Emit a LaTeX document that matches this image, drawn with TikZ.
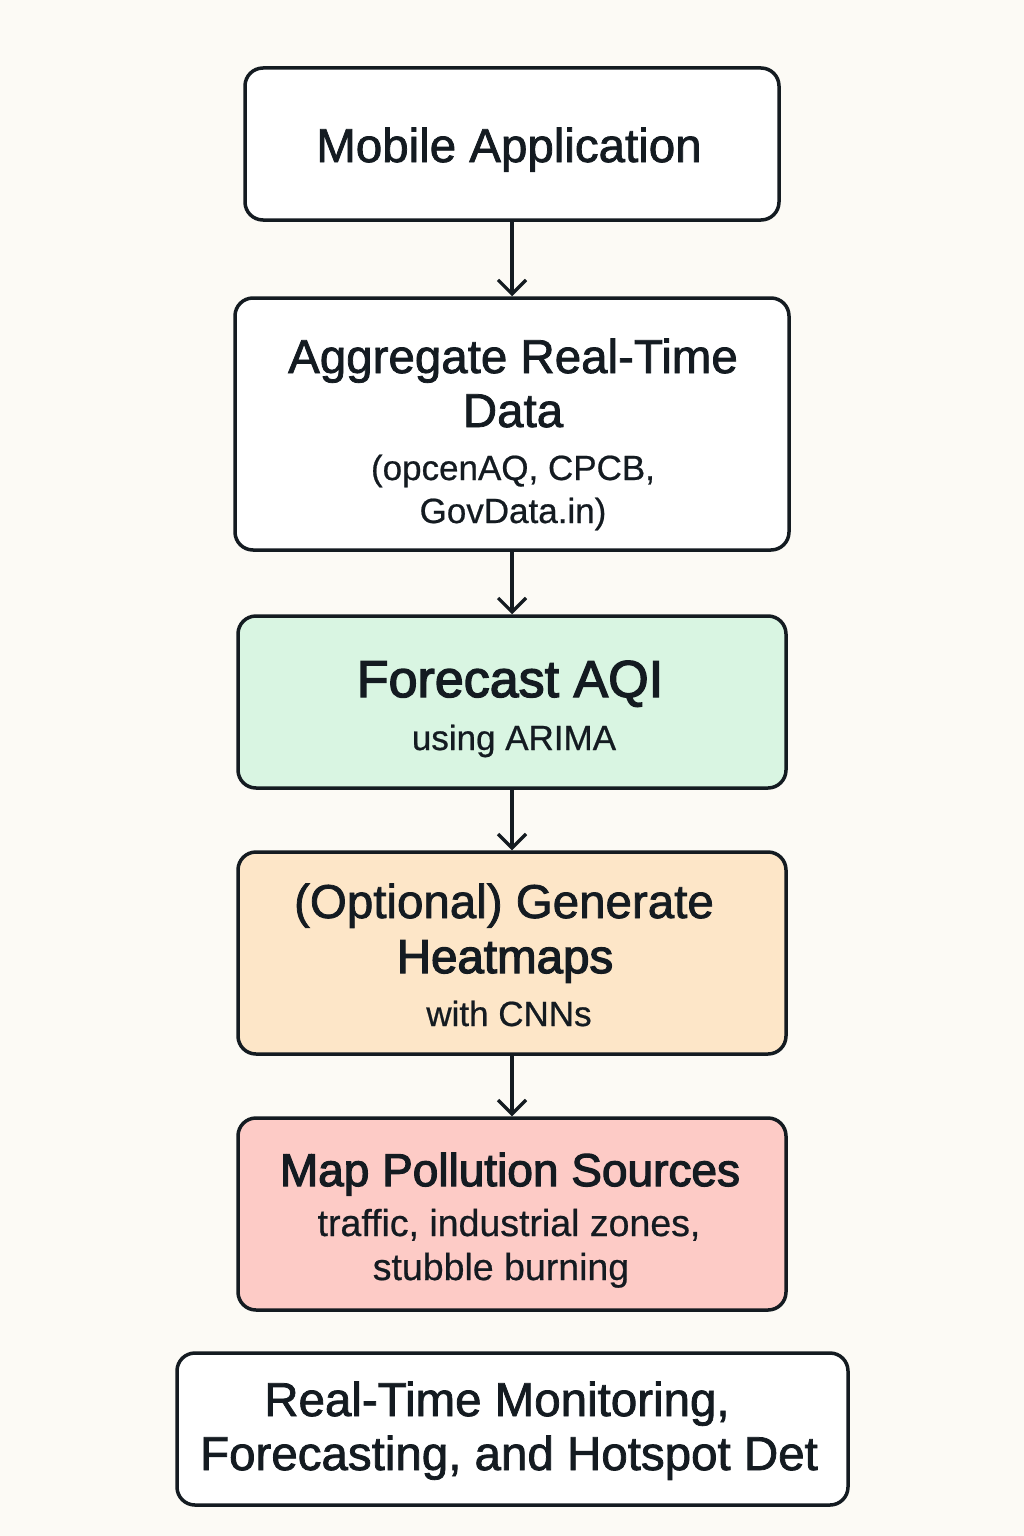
\documentclass[tikz,border=0pt]{standalone}
\usepackage{fontspec}
\setmainfont{Liberation Sans}
\newfontfamily\lightf[FakeBold=0.6]{Liberation Sans}
\newfontfamily\medf[FakeBold=1.6]{Liberation Sans}
\newfontfamily\semif[FakeBold=2.6]{Liberation Sans}
\usetikzlibrary{arrows.meta}
\definecolor{bg}{HTML}{FCFAF5}
\definecolor{ink}{HTML}{141B21}
\definecolor{fgreen}{HTML}{D9F5E2}
\definecolor{forange}{HTML}{FDE6C8}
\definecolor{fpink}{HTML}{FDCBC6}
\tikzset{
  box/.style={draw=ink, line width=3.5pt, rounded corners=18pt, fill=white, inner sep=0pt},
  head/.style={anchor=base, text=ink, font=\medf\fontsize{47.5}{54}\selectfont},
  bighead/.style={anchor=base, text=ink, font=\semif\fontsize{47.5}{54}\selectfont},
  sub/.style={anchor=base, text=ink, font=\lightf\fontsize{35}{44}\selectfont},
  plain/.style={anchor=base, text=ink, font=\medf\fontsize{47.5}{54}\selectfont},
  flow/.style={draw=ink, line width=3.2pt, -{Straight Barb[length=14pt,width=28pt,line width=3.2pt]}}
}
\begin{document}
\begin{tikzpicture}[x=1pt,y=-1pt]
\fill[bg] (0,0) rectangle (1024,1536);
\useasboundingbox (0,0) rectangle (1024,1536);

\node[box, minimum width=534pt, minimum height=152pt] (b1) at (512,144) {};
\node[box, minimum width=554pt, minimum height=252pt] (b2) at (512,424) {};
\node[box, fill=fgreen, minimum width=548pt, minimum height=172pt] (b3) at (512,702) {};
\node[box, fill=forange, minimum width=548pt, minimum height=202pt] (b4) at (512,953) {};
\node[box, fill=fpink, minimum width=548pt, minimum height=192pt] (b5) at (512,1214) {};
\node[box, minimum width=671pt, minimum height=152pt] (b6) at (512.5,1429) {};

\node[head] (t1) at (509,162) {Mobile Application};

\node[head] (t2a) at (513,373) {Aggregate Real-Time};
\node[head] (t2b) at (513,427) {Data};
\node[sub] (t2c) at (513,480) {(opcenAQ, CPCB,};
\node[sub] (t2d) at (513,523) {GovData.in)};

\node[bighead, font=\semif\fontsize{52}{54}\selectfont] (t3a) at (510,697) {Forecast AQI};
\node[sub] (t3b) at (514,750) {using ARIMA};

\node[head] (t4a) at (504,918) {(Optional) Generate};
\node[bighead] (t4b) at (505,973) {Heatmaps};
\node[sub] (t4c) at (509,1026) {with CNNs};

\node[bighead, font=\semif\fontsize{46}{54}\selectfont] (t5a) at (510,1186) {Map Pollution Sources};
\node[sub, font=\lightf\fontsize{37.5}{44}\selectfont] (t5b) at (509,1236) {traffic, industrial zones,};
\node[sub, font=\lightf\fontsize{37.5}{44}\selectfont] (t5c) at (501,1280) {stubble burning};

\node[plain] (t6a) at (497,1416) {Real-Time Monitoring,};
\node[plain] (t6b) at (509,1470) {Forecasting, and Hotspot Det};

\draw[flow] (b1.south) -- (b2.north);
\draw[flow] (b2.south) -- (b3.north);
\draw[flow] (b3.south) -- (b4.north);
\draw[flow] (b4.south) -- (b5.north);
\end{tikzpicture}
\end{document}
